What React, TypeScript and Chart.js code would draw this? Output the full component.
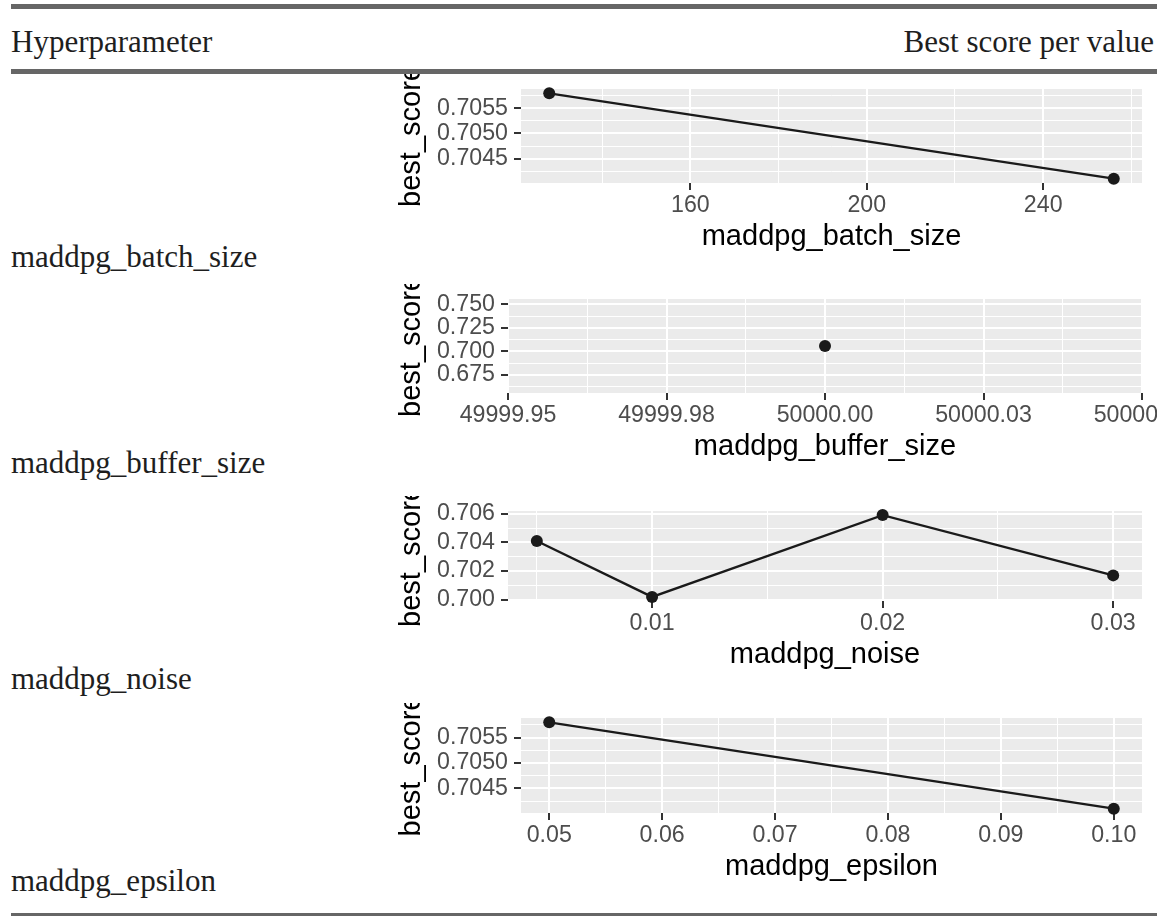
import React, { useEffect, useRef } from "react";
import { Chart, registerables } from "chart.js";

Chart.register(...registerables);

// ---------------- data ----------------
const headerLeft = "Hyperparameter";
const headerRight = "Best score per value";
const rowLabels = ["maddpg_batch_size", "maddpg_buffer_size", "maddpg_noise", "maddpg_epsilon"];
const yAxisTitle = "best_score";

const batchSizeValues = [128, 256];
const batchSizeScores = [0.7058, 0.7041];

const bufferSizeValues = [50000];
const bufferSizeScores = [0.7058];

const noiseValues = [0.005, 0.01, 0.02, 0.03];
const noiseScores = [0.7041, 0.7002, 0.7059, 0.7017];

const epsilonValues = [0.05, 0.1];
const epsilonScores = [0.7058, 0.7041];

// tick values / labels
const batchXTicks = [160, 200, 240];
const batchXTickLabels = ["160", "200", "240"];
const batchXMinor = [140, 180, 220, 260];
const scoreYTicksFine = [0.7045, 0.705, 0.7055];
const scoreYTickLabelsFine = ["0.7045", "0.7050", "0.7055"];
const scoreYMinorFine = [0.70425, 0.70475, 0.70525, 0.70575];

const bufferXTicks = [49999.95, 49999.975, 50000, 50000.025, 50000.05];
const bufferXTickLabels = ["49999.95", "49999.98", "50000.00", "50000.03", "50000.05"];
const bufferXMinor = [49999.9625, 49999.9875, 50000.0125, 50000.0375];
const bufferYTicks = [0.675, 0.7, 0.725, 0.75];
const bufferYTickLabels = ["0.675", "0.700", "0.725", "0.750"];
const bufferYMinor = [0.6625, 0.6875, 0.7125, 0.7375];

const noiseXTicks = [0.01, 0.02, 0.03];
const noiseXTickLabels = ["0.01", "0.02", "0.03"];
const noiseXMinor = [0.005, 0.015, 0.025];
const noiseYTicks = [0.7, 0.702, 0.704, 0.706];
const noiseYTickLabels = ["0.700", "0.702", "0.704", "0.706"];
const noiseYMinor = [0.701, 0.703, 0.705];

const epsilonXTicks = [0.05, 0.06, 0.07, 0.08, 0.09, 0.1];
const epsilonXTickLabels = ["0.05", "0.06", "0.07", "0.08", "0.09", "0.10"];
const epsilonXMinor = [0.055, 0.065, 0.075, 0.085, 0.095];

// ---------------- styling / layout ----------------
const SANS = "'Liberation Sans', Arial, Helvetica, sans-serif";
const SERIF = "'Liberation Serif', 'Times New Roman', serif";
const CANVAS_LEFT = 387;
const CANVAS_WIDTH = 770;

type Spec = {
  title: string;
  xs: number[];
  ys: number[];
  xMajor: number[];
  xLabels: string[];
  xMinor: number[];
  yMajor: number[];
  yLabels: string[];
  yMinor: number[];
  top: number;
  yAxisWidth: number;
  areaBottom: number;
};

const specs: Spec[] = [
  {
    title: rowLabels[0], xs: batchSizeValues, ys: batchSizeScores,
    xMajor: batchXTicks, xLabels: batchXTickLabels, xMinor: batchXMinor,
    yMajor: scoreYTicksFine, yLabels: scoreYTickLabelsFine, yMinor: scoreYMinorFine,
    top: 74, yAxisWidth: 134, areaBottom: 109,
  },
  {
    title: rowLabels[1], xs: bufferSizeValues, ys: bufferSizeScores,
    xMajor: bufferXTicks, xLabels: bufferXTickLabels, xMinor: bufferXMinor,
    yMajor: bufferYTicks, yLabels: bufferYTickLabels, yMinor: bufferYMinor,
    top: 284, yAxisWidth: 121, areaBottom: 109,
  },
  {
    title: rowLabels[2], xs: noiseValues, ys: noiseScores,
    xMajor: noiseXTicks, xLabels: noiseXTickLabels, xMinor: noiseXMinor,
    yMajor: noiseYTicks, yLabels: noiseYTickLabels, yMinor: noiseYMinor,
    top: 496, yAxisWidth: 121, areaBottom: 105,
  },
  {
    title: rowLabels[3], xs: epsilonValues, ys: epsilonScores,
    xMajor: epsilonXTicks, xLabels: epsilonXTickLabels, xMinor: epsilonXMinor,
    yMajor: scoreYTicksFine, yLabels: scoreYTickLabelsFine, yMinor: scoreYMinorFine,
    top: 703, yAxisWidth: 134, areaBottom: 110,
  },
];

const X_AXIS_HEIGHT = 87;

function expandRange(vals: number[]): [number, number] {
  const lo = Math.min(...vals);
  const hi = Math.max(...vals);
  if (hi - lo === 0) return [lo - 0.05, hi + 0.05];
  const pad = (hi - lo) * 0.05;
  return [lo - pad, hi + pad];
}

function near(a: number, b: number) {
  return Math.abs(a - b) < 1e-9 * Math.max(1, Math.abs(a));
}

const panelBackground = {
  id: "panelBackground",
  beforeDraw(chart: any) {
    const { ctx, chartArea } = chart;
    ctx.save();
    ctx.fillStyle = "#EBEBEB";
    ctx.fillRect(chartArea.left, chartArea.top, chartArea.right - chartArea.left, chartArea.bottom - chartArea.top);
    ctx.restore();
  },
};

function axisOptions(
  axis: "x" | "y",
  major: number[],
  labels: string[],
  minor: number[],
  range: [number, number],
  size: number,
  titleText: string,
) {
  const all = [...major, ...minor].sort((a, b) => a - b);
  const isMajor = (v: number) => major.some((m) => near(m, v));
  return {
    type: "linear",
    position: axis === "x" ? "bottom" : "left",
    min: range[0],
    max: range[1],
    bounds: "data",
    afterBuildTicks: (s: any) => {
      s.ticks = all.map((v) => ({ value: v }));
    },
    afterFit: (s: any) => {
      if (axis === "x") {
        s.height = size;
        s.paddingLeft = 0;
        s.paddingRight = 0;
      } else {
        s.width = size;
        s.paddingTop = 0;
        s.paddingBottom = 0;
      }
    },
    border: { display: false },
    grid: {
      color: "#FFFFFF",
      lineWidth: (ctx: any) => (ctx.tick && isMajor(ctx.tick.value) ? 2 : 1),
      drawTicks: true,
      tickLength: 7,
      tickWidth: 2,
      tickColor: (ctx: any) => (ctx.tick && isMajor(ctx.tick.value) ? "#333333" : "rgba(0,0,0,0)"),
    },
    ticks: {
      autoSkip: false,
      maxRotation: 0,
      minRotation: 0,
      padding: axis === "x" ? 2 : 6,
      color: "#4D4D4D",
      font: { family: SANS, size: 23.2 },
      callback: (value: number) => {
        const i = major.findIndex((m) => near(m, value));
        return i >= 0 ? labels[i] : "";
      },
    },
    title: {
      display: true,
      text: titleText,
      color: "#000000",
      font: { family: SANS, size: 29 },
      padding: axis === "x" ? { top: 0, bottom: 16 } : { top: 8, bottom: 0 },
    },
  };
}

function ScorePlot({ spec }: { spec: Spec }) {
  const ref = useRef<HTMLCanvasElement | null>(null);
  const height = spec.areaBottom + X_AXIS_HEIGHT;
  useEffect(() => {
    if (!ref.current) return;
    const points = spec.xs.map((x, i) => ({ x, y: spec.ys[i] }));
    const chart = new Chart(ref.current, {
      type: "scatter",
      data: {
        datasets: [
          {
            data: points,
            showLine: true,
            borderColor: "#1A1A1A",
            borderWidth: 2.3,
            backgroundColor: "#1A1A1A",
            pointBackgroundColor: "#1A1A1A",
            pointBorderWidth: 0,
            pointRadius: 6,
            pointHoverRadius: 6,
            clip: false,
          } as any,
        ],
      },
      options: {
        responsive: false,
        animation: false,
        devicePixelRatio: 1,
        layout: { padding: { top: 15, right: 15, left: 0, bottom: 0 } },
        plugins: { legend: { display: false }, tooltip: { enabled: false } },
        events: [],
        scales: {
          x: axisOptions("x", spec.xMajor, spec.xLabels, spec.xMinor, expandRange(spec.xs), X_AXIS_HEIGHT, spec.title) as any,
          y: axisOptions("y", spec.yMajor, spec.yLabels, spec.yMinor, expandRange(spec.ys), spec.yAxisWidth, yAxisTitle) as any,
        },
      },
      plugins: [panelBackground],
    });
    return () => chart.destroy();
  }, []);
  return (
    <canvas
      ref={ref}
      width={CANVAS_WIDTH}
      height={height}
      style={{ position: "absolute", left: CANVAS_LEFT, top: spec.top, width: CANVAS_WIDTH, height }}
    />
  );
}

const rowBaselines = [267, 473, 689, 891];
const SERIF_SIZE = 31;
const SERIF_ASCENT_OFFSET = 26; // baseline offset inside a 31px line box

export default function App() {
  const textStyle: React.CSSProperties = {
    position: "absolute",
    fontFamily: SERIF,
    fontSize: SERIF_SIZE,
    lineHeight: `${SERIF_SIZE}px`,
    color: "#1E1E1E",
    whiteSpace: "nowrap",
    margin: 0,
  };
  return (
    <div style={{ position: "absolute", left: 0, top: 0, width: 1171, height: 916, background: "#FFFFFF", overflow: "hidden" }}>
      <div style={{ position: "absolute", left: 11, top: 4, width: 1146, height: 5, background: "#666666" }} />
      <div style={{ position: "absolute", left: 11, top: 69, width: 1146, height: 5, background: "#666666" }} />
      <div style={{ position: "absolute", left: 11, top: 913, width: 1146, height: 3, background: "#666666" }} />
      <div style={{ ...textStyle, left: 11, top: 52.3 - SERIF_ASCENT_OFFSET }}>{headerLeft}</div>
      <div style={{ ...textStyle, right: 1171 - 1154, top: 52.3 - SERIF_ASCENT_OFFSET, textAlign: "right" }}>{headerRight}</div>
      {rowLabels.map((label, i) => (
        <div key={label} style={{ ...textStyle, left: 11, top: rowBaselines[i] - SERIF_ASCENT_OFFSET }}>
          {label}
        </div>
      ))}
      {specs.map((s) => (
        <ScorePlot key={s.title} spec={s} />
      ))}
    </div>
  );
}
